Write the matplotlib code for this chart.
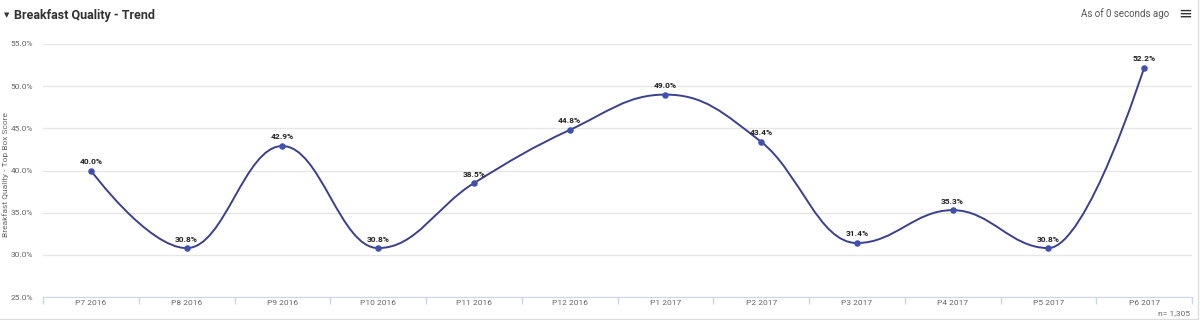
import matplotlib
matplotlib.use("Agg")
import matplotlib.pyplot as plt
from matplotlib.path import Path
from matplotlib.patches import PathPatch, Rectangle
from matplotlib.ticker import FixedLocator, FuncFormatter

periods = ["P7 2016", "P8 2016", "P9 2016", "P10 2016", "P11 2016", "P12 2016",
           "P1 2017", "P2 2017", "P3 2017", "P4 2017", "P5 2017", "P6 2017"]
scores = [40.0, 30.8, 42.9, 30.8, 38.5, 44.8, 49.0, 43.4, 31.4, 35.3, 30.8, 52.2]
y_ticks = [25, 30, 35, 40, 45, 50, 55]

LINE = "#3b3f92"
DOT = "#3f51b0"
GRID = "#e6e6e6"
TXT = "#666666"

plt.rcParams["font.family"] = ["Roboto", "DejaVu Sans"]


# spline control points, same idea as highcharts "spline" series (smoothing 1.5)
def spline_path(xs, ys, smoothing=1.5):
    n = len(xs)
    left = [(xs[i], ys[i]) for i in range(n)]
    right = [(xs[i], ys[i]) for i in range(n)]
    den = smoothing + 1
    for i in range(1, n - 1):
        x, y = xs[i], ys[i]
        lx, ly = xs[i - 1], ys[i - 1]
        nx, ny = xs[i + 1], ys[i + 1]
        lcx = (smoothing * x + lx) / den
        lcy = (smoothing * y + ly) / den
        rcx = (smoothing * x + nx) / den
        rcy = (smoothing * y + ny) / den
        if rcx != lcx:
            corr = (rcy - lcy) * (rcx - x) / (rcx - lcx) + y - rcy
            lcy += corr
            rcy += corr
        if lcy > ly and lcy > y:
            lcy = max(ly, y)
            rcy = 2 * y - lcy
        elif lcy < ly and lcy < y:
            lcy = min(ly, y)
            rcy = 2 * y - lcy
        if rcy > ny and rcy > y:
            rcy = max(ny, y)
            lcy = 2 * y - rcy
        elif rcy < ny and rcy < y:
            rcy = min(ny, y)
            lcy = 2 * y - rcy
        left[i] = (lcx, lcy)
        right[i] = (rcx, rcy)
    verts = [(xs[0], ys[0])]
    codes = [Path.MOVETO]
    for i in range(1, n):
        verts += [right[i - 1], left[i], (xs[i], ys[i])]
        codes += [Path.CURVE4] * 3
    return Path(verts, codes)


fig = plt.figure(figsize=(12, 3.2), dpi=100)
ax = fig.add_axes([43 / 1200, 1 - 297 / 320, (1192 - 43) / 1200, (297 - 44) / 320])

xs = list(range(len(periods)))
ax.add_patch(PathPatch(spline_path(xs, scores), facecolor="none", edgecolor=LINE, lw=1.4, zorder=3))
ax.scatter(xs, scores, s=22, color=DOT, zorder=4, linewidths=0)

for x, v in zip(xs, scores):
    ax.annotate(f"{v:.1f}%", (x, v), xytext=(0, 4), textcoords="offset points",
                ha="center", va="bottom", fontsize=6, fontweight="bold", color="#222222", zorder=5)

ax.set_xlim(-0.5, len(periods) - 0.5)
ax.set_ylim(25, 55)
ax.set_yticks(y_ticks)
ax.yaxis.set_major_formatter(FuncFormatter(lambda v, p: f"{v:.1f}%"))
ax.grid(axis="y", color=GRID, lw=1)
ax.set_axisbelow(True)

ax.set_xticks(xs)
ax.set_xticklabels(periods)
ax.xaxis.set_minor_locator(FixedLocator([i - 0.5 for i in range(len(periods) + 1)]))
ax.tick_params(axis="x", which="major", length=0, pad=2, labelsize=6, labelcolor=TXT)
ax.tick_params(axis="x", which="minor", length=5, color="#ccd6eb", width=1)
ax.tick_params(axis="y", length=0, pad=7, labelsize=6, labelcolor=TXT)

for s in ["top", "right", "left"]:
    ax.spines[s].set_visible(False)
ax.spines["bottom"].set_color("#ccd6eb")

fig.text(2 / 1200, 1 - 175 / 320, "Breakfast Quality - Top Box Score", rotation=90, ha="left", va="center",
         fontsize=6, color=TXT)

fig.text(14 / 1200, 1 - 15 / 320, "Breakfast Quality - Trend", ha="left", va="center",
         fontsize=9, fontweight="bold", color="#333333")
fig.text(4 / 1200, 1 - 15 / 320, "\u25bc", ha="left", va="center", fontsize=5, color="#333333",
         family="DejaVu Sans")
fig.text(1169 / 1200, 1 - 14 / 320, "As of 0 seconds ago", ha="right", va="center",
         fontsize=7, color="#555555")
fig.text(1185 / 1200, 1 - 14 / 320, "\u2261", ha="center", va="center", fontsize=12, color="#333333",
         family="DejaVu Sans")
fig.text(1190 / 1200, 1 - 313 / 320, "n= 1,305", ha="right", va="center", fontsize=6, color=TXT)

fig.patches.append(Rectangle((-0.01, 1 / 320), 1198 / 1200 + 0.01, 1.02, transform=fig.transFigure,
                             facecolor="none", edgecolor="#dddddd", lw=1))

fig.savefig("out.png", dpi=100)
